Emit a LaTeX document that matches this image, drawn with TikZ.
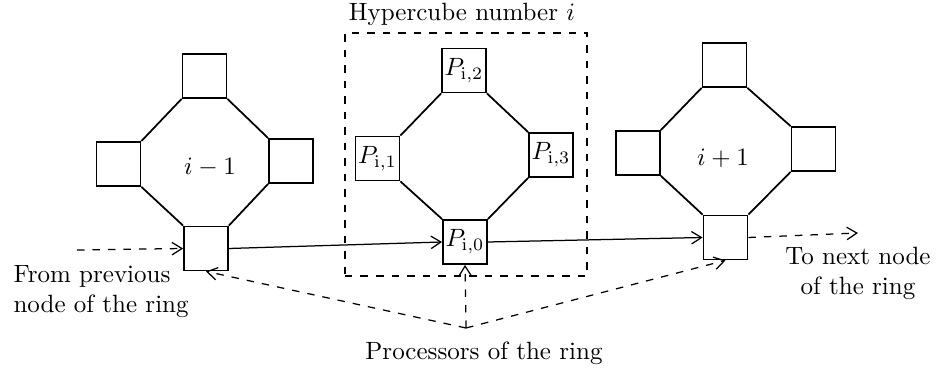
\documentclass[tikz,border=0pt]{standalone}
\usetikzlibrary{arrows.meta}
\begin{document}
\begin{tikzpicture}[x=0.4pt,y=-0.4pt,
  proc/.style={draw,line width=0.7pt,minimum size=17.6pt,inner sep=0pt},
  edge/.style={line width=0.7pt},
  ring/.style={line width=0.5pt,-{Straight Barb[length=4pt,width=5pt]}},
  dsh/.style={line width=0.5pt,dash pattern=on 3pt off 3.2pt},
  lbl/.style={inner sep=0pt}]
\useasboundingbox (0,0) rectangle (942,371);
% left hypercube (i-1)
\node[proc] (L2) at (204.5,76) {};
\node[proc] (L1) at (118.5,164) {};
\node[proc] (L3) at (291,161) {};
\node[proc] (L0) at (206,248.5) {};
% middle hypercube (i)
\node[proc] (M2) at (464,70.5) {$P_{\mathrm{i},2}$};
\node[proc] (M1) at (377.5,158.5) {$P_{\mathrm{i},1}$};
\node[proc] (M3) at (551,155) {$P_{\mathrm{i},3}$};
\node[proc] (M0) at (465,242) {$P_{\mathrm{i},0}$};
% right hypercube (i+1)
\node[proc] (R2) at (724.5,65) {};
\node[proc] (R1) at (638,153) {};
\node[proc] (R3) at (813.5,149) {};
\node[proc] (R0) at (725.5,237.5) {};
\foreach \c in {L,M,R} {
  \draw[edge] (\c2.south west) -- (\c1.north east)
              (\c2.south east) -- (\c3.north west)
              (\c1.south east) -- (\c0.north west)
              (\c3.south west) -- (\c0.north east);
}
\node[lbl] (lm) at (210,167) {$i-1$};
\node[lbl] (lp) at (723,158) {$i+1$};
% hypercube frame
\node[draw,dsh,minimum width=96.8pt,minimum height=97.2pt,inner sep=0pt] (hc) at (466,154.5) {};
\node[lbl] (hct) at (462,14) {Hypercube number $i$};
% ring connections
\draw[ring] (L0.east) -- (M0.west);
\draw[ring] (M0.east) -- (R0.west);
\coordinate (fromstart) at (77,250);
\coordinate (toend) at (858,233);
\draw[ring,dsh] (fromstart) -- (L0.west);
\draw[ring,dsh] (R0.east) -- (toend);
\node[lbl,align=left,anchor=west] (from) at (13,292) {From previous\\node of the ring};
\node[lbl,align=center] (to) at (858,273) {To next node\\of the ring};
% processors of the ring
\coordinate (conv) at (466,328);
\draw[ring,dsh] (conv) -- (L0.south);
\draw[ring,dsh] (conv) -- (M0.south);
\draw[ring,dsh] (conv) -- (R0.south);
\node[lbl] (proc) at (484,353) {Processors of the ring};
\end{tikzpicture}
\end{document}
